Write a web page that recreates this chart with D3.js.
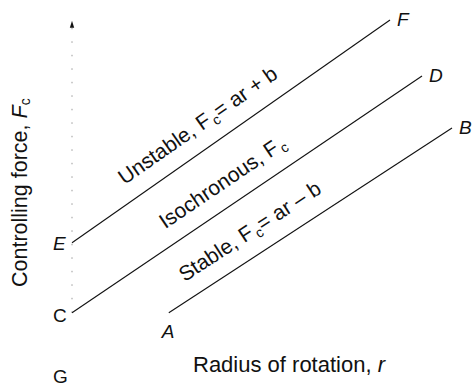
<!DOCTYPE html>
<html>
<head>
<meta charset="utf-8">
<script src="https://cdn.jsdelivr.net/npm/d3@7"></script>
<style>
  body { margin: 0; background: #fff; }
  svg { font-family: "Liberation Sans", Arial, sans-serif; }
</style>
</head>
<body>
<div id="chart"></div>
<script>
// Controlling force lines (r, Fc in arbitrary units)
var lineNames = ["Unstable", "Isochronous", "Stable"];
var startLabels = ["E", "C", "A"];
var endLabels = ["F", "D", "B"];
var startR = [0, 0, 2.42];
var startF = [3.38, 1.63, 1.63];
var endR = [7.95, 8.75, 9.5];
var endF = [8.95, 7.55, 6.25];
var equations = ["= ar + b", "", "= ar \u2013 b"];
var originLabel = "G";
var axisTop = 8.93;

var width = 473, height = 390;
var margin = { top: -22, right: 1, bottom: 12, left: 72 };

var x = d3.scaleLinear([0, 10], [margin.left, width - margin.right]);
var y = d3.scaleLinear([0, 10], [height - margin.bottom, margin.top]);

var svg = d3.select("#chart").append("svg")
    .attr("width", width)
    .attr("height", height);

// dotted y axis with small arrow at the top
svg.append("line")
    .attr("x1", x(0)).attr("x2", x(0))
    .attr("y1", y(startF[1])).attr("y2", y(axisTop) + 6)
    .attr("stroke", "#999")
    .attr("stroke-width", 1)
    .attr("stroke-dasharray", "1.5,12");
svg.append("path")
    .attr("d", `M${x(0)},${y(axisTop)} l-2.2,7 l4.4,0 Z`)
    .attr("fill", "#111");

var lines = lineNames.map(function (name, i) {
    return { name: name, r0: startR[i], f0: startF[i], r1: endR[i], f1: endF[i],
             s: startLabels[i], e: endLabels[i], eq: equations[i] };
});

svg.append("g")
    .selectAll("line")
    .data(lines)
    .join("line")
    .attr("x1", d => x(d.r0)).attr("y1", d => y(d.f0))
    .attr("x2", d => x(d.r1)).attr("y2", d => y(d.f1))
    .attr("stroke", "#111")
    .attr("stroke-width", 1.1);

// text running along each line
var along = [76, 124, 30];
var offset = 17;
var labels = svg.append("g").attr("font-size", 21).attr("fill", "#111");
lines.forEach(function (d, i) {
    var x0 = x(d.r0), y0 = y(d.f0), x1 = x(d.r1), y1 = y(d.f1);
    var len = Math.hypot(x1 - x0, y1 - y0);
    var ux = (x1 - x0) / len, uy = (y1 - y0) / len;
    var ang = Math.atan2(y1 - y0, x1 - x0) * 180 / Math.PI;
    var px = x0 + ux * along[i] + uy * offset;
    var py = y0 + uy * along[i] - ux * offset;
    var t = labels.append("text")
        .attr("transform", `translate(${px},${py}) rotate(${ang})`);
    t.append("tspan").text(d.name + ", F");
    t.append("tspan").attr("font-size", 14).attr("dy", 4).attr("dx", 2).text("c");
    if (d.eq) t.append("tspan").attr("dy", -4).text(d.eq);
});

// point letters
var pts = svg.append("g").attr("font-size", 19).attr("fill", "#111");
pts.append("text").attr("x", x(0) - 19).attr("y", y(startF[0]) + 7)
    .attr("font-style", "italic").text(startLabels[0]);
pts.append("text").attr("x", x(0) - 19).attr("y", y(startF[1]) + 9)
    .text(startLabels[1]);
pts.append("text").attr("x", x(0) - 19).attr("y", y(0) + 5)
    .text(originLabel);
pts.append("text").attr("x", x(startR[2]) - 7).attr("y", y(startF[2]) + 25)
    .attr("font-style", "italic").text(startLabels[2]);
lines.forEach(function (d) {
    pts.append("text").attr("x", x(d.r1) + 7).attr("y", y(d.f1) + 6)
        .attr("font-style", "italic").text(d.e);
});

// axis titles
var xt = svg.append("text")
    .attr("x", 193).attr("y", 372)
    .attr("font-size", 22).attr("fill", "#111");
xt.append("tspan").text("Radius of rotation, ");
xt.append("tspan").attr("font-style", "italic").text("r");

var yt = svg.append("text")
    .attr("transform", "translate(27,287) rotate(-90)")
    .attr("font-size", 21.5).attr("fill", "#111");
yt.append("tspan").text("Controlling force, ");
yt.append("tspan").attr("font-style", "italic").text("F");
yt.append("tspan").attr("font-size", 14).attr("dy", 3).text("c");
</script>
</body>
</html>
